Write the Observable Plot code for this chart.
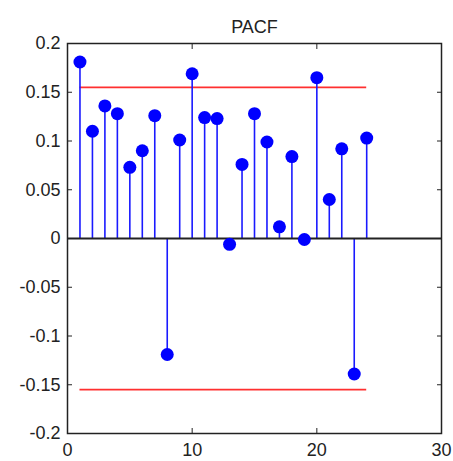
<!DOCTYPE html>
<html>
<head>
<meta charset="utf-8">
<script src="https://cdn.jsdelivr.net/npm/d3@7"></script>
<script src="https://cdn.jsdelivr.net/npm/@observablehq/plot@0.6"></script>
<style>
  html, body { margin: 0; padding: 0; background: #fff; }
</style>
</head>
<body>
<div id="chart"></div>
<script>
const title = "PACF";
const lags = [1, 2, 3, 4, 5, 6, 7, 8, 9, 10, 11, 12, 13, 14, 15, 16, 17, 18, 19, 20, 21, 22, 23, 24];
const pacf = [0.181, 0.110, 0.136, 0.128, 0.073, 0.090, 0.126, -0.119, 0.101, 0.169, 0.124, 0.123, -0.006, 0.076, 0.128, 0.099, 0.012, 0.084, -0.001, 0.165, 0.040, 0.092, -0.139, 0.103];
const bounds = [0.155, -0.155];
const boundStart = 1;
const boundEnd = 24;
const xTicks = [0, 10, 20, 30];
const yTicks = [-0.2, -0.15, -0.1, -0.05, 0, 0.05, 0.1, 0.15, 0.2];

const data = lags.map((lag, i) => ({lag, value: pacf[i]}));
const fmt = d => String(+d.toFixed(2));

const chart = Plot.plot({
  width: 453,
  height: 461,
  marginLeft: 67,
  marginRight: 12,
  marginTop: 43,
  marginBottom: 28,
  style: {fontFamily: "'Liberation Sans', Arial, sans-serif", fontSize: "18px", color: "#222", background: "#fff"},
  x: {domain: [0, 30]},
  y: {domain: [-0.2, 0.2]},
  marks: [
    Plot.ruleY(bounds, {y: d => d, x1: boundStart, x2: boundEnd, stroke: "#ff3030", strokeWidth: 1.8}),
    Plot.ruleX(data, {x: "lag", y1: 0, y2: "value", stroke: "#1a1aff", strokeWidth: 1.6}),
    Plot.ruleY([0], {stroke: "#222", strokeWidth: 1.8}),
    Plot.dot(data, {x: "lag", y: "value", r: 6.5, fill: "#0000ff", stroke: "none"}),
    Plot.frame({stroke: "#222", strokeWidth: 1.5}),
    Plot.axisY({anchor: "left", ticks: yTicks, tickSize: -5, tickPadding: 12, tickFormat: fmt, label: null, stroke: "#222"}),
    Plot.axisY({anchor: "right", ticks: yTicks, tickSize: -5, tickFormat: () => "", label: null, stroke: "#222"}),
    Plot.axisX({anchor: "bottom", ticks: xTicks, tickSize: -5, tickPadding: 15, tickFormat: fmt, label: null, stroke: "#222"}),
    Plot.axisX({anchor: "top", ticks: xTicks, tickSize: -5, tickFormat: () => "", label: null, stroke: "#222"}),
    Plot.text([title], {frameAnchor: "top", dy: -23, text: d => d, fontSize: 18, fill: "#222"})
  ]
});
document.getElementById("chart").appendChild(chart);
</script>
</body>
</html>
